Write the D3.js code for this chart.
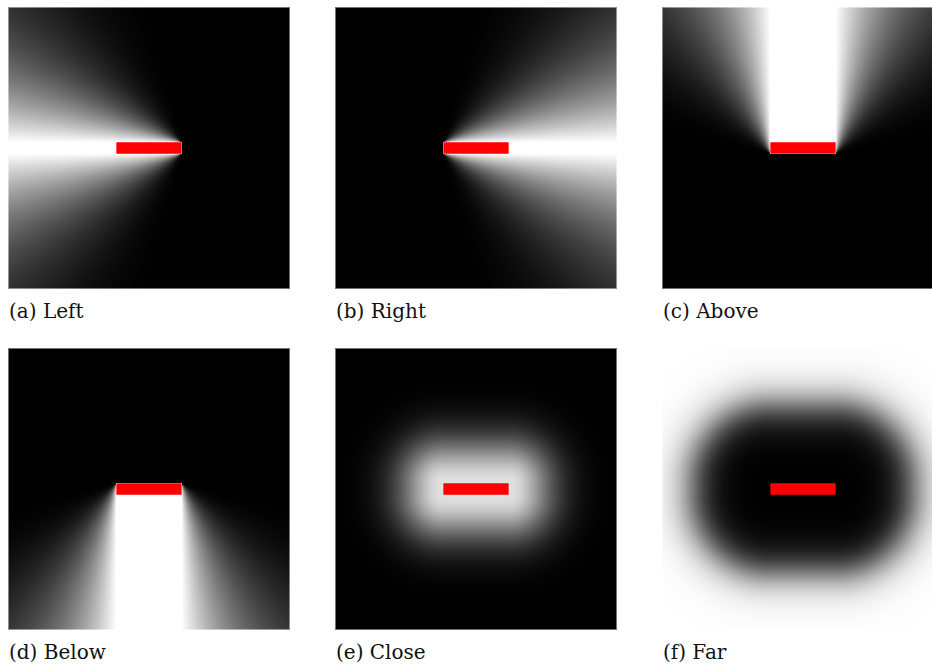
<!DOCTYPE html>
<html>
<head>
<meta charset="utf-8">
<script src="https://cdn.jsdelivr.net/npm/d3@7/dist/d3.min.js"></script>
<style>
  body { margin: 0; background: #fff; }
  svg { display: block; }
</style>
</head>
<body>
<div id="chart"></div>
<script>
// panels, in reading order
const captions = ['(a) Left', '(b) Right', '(c) Above', '(d) Below', '(e) Close', '(f) Far'];
const relations = ['left', 'right', 'above', 'below', 'close', 'far'];

// landmark (red bar) in field units, field spans extent on both axes
const landmarkX = [-0.5, 0.5];
const landmarkY = [-0.088, 0.088];
const extent = [-2.16, 2.16];

// field parameters
const directionPower = 3;              // (1 - 2θ/π)^k
const closeParams = [0.88, 0.68, 2];   // peak, width, shape
const farParams = [1.2, 0.18];         // centre, slope

const width = 932;
const height = 671;
const size = 282;
const colX = [8, 335, 662];
const rowY = [7, 348];

const dirs = {
  left: [-1, 0],
  right: [1, 0],
  above: [0, 1],
  below: [0, -1]
};

const xScale = d3.scaleLinear().domain(extent).range([0, size]);
const yScale = d3.scaleLinear().domain(extent).range([size, 0]);

const corners = [
  [landmarkX[0], landmarkY[0]],
  [landmarkX[0], landmarkY[1]],
  [landmarkX[1], landmarkY[0]],
  [landmarkX[1], landmarkY[1]]
];

function distToLandmark(x, y) {
  const dx = Math.max(landmarkX[0] - x, 0, x - landmarkX[1]);
  const dy = Math.max(landmarkY[0] - y, 0, y - landmarkY[1]);
  return Math.sqrt(dx * dx + dy * dy);
}

function directional(rel, x, y) {
  const u = dirs[rel];
  const w = [-u[1], u[0]];
  let aMax = -Infinity, bMin = Infinity, bMax = -Infinity, theta = Infinity;
  corners.forEach(c => {
    const vx = x - c[0], vy = y - c[1];
    const a = vx * u[0] + vy * u[1];
    const b = vx * w[0] + vy * w[1];
    aMax = Math.max(aMax, a);
    bMin = Math.min(bMin, b);
    bMax = Math.max(bMax, b);
    theta = Math.min(theta, Math.atan2(Math.abs(b), a));
  });
  if (aMax > 0 && bMin <= 0 && bMax >= 0) return 1;
  return Math.pow(Math.max(0, 1 - 2 * theta / Math.PI), directionPower);
}

function fieldValue(rel, x, y) {
  if (rel === 'close') {
    const d = distToLandmark(x, y);
    return closeParams[0] * Math.exp(-Math.pow(d / closeParams[1], closeParams[2]));
  }
  if (rel === 'far') {
    const d = distToLandmark(x, y);
    return 1 / (1 + Math.exp(-(d - farParams[0]) / farParams[1]));
  }
  return directional(rel, x, y);
}

function renderField(rel) {
  const canvas = document.createElement('canvas');
  canvas.width = size;
  canvas.height = size;
  const ctx = canvas.getContext('2d');
  const img = ctx.createImageData(size, size);
  for (let j = 0; j < size; j++) {
    const y = yScale.invert(j + 0.5);
    for (let i = 0; i < size; i++) {
      const x = xScale.invert(i + 0.5);
      const g = Math.round(255 * Math.min(1, Math.max(0, fieldValue(rel, x, y))));
      const k = (j * size + i) * 4;
      img.data[k] = g;
      img.data[k + 1] = g;
      img.data[k + 2] = g;
      img.data[k + 3] = 255;
    }
  }
  ctx.putImageData(img, 0, 0);
  return canvas.toDataURL();
}

const svg = d3
  .select('#chart')
  .append('svg')
  .attr('width', width)
  .attr('height', height);

svg.append('rect').attr('width', width).attr('height', height).attr('fill', '#fff');

const panels = svg
  .selectAll('g.panel')
  .data(relations)
  .enter()
  .append('g')
  .attr('class', 'panel')
  .attr('transform', (d, i) => `translate(${colX[i % 3]}, ${rowY[Math.floor(i / 3)]})`);

panels
  .append('image')
  .attr('width', size)
  .attr('height', size)
  .attr('href', d => renderField(d));

/* soft edge where the image meets the page */
panels
  .append('rect')
  .attr('x', 0.5)
  .attr('y', 0.5)
  .attr('width', size - 1)
  .attr('height', size - 1)
  .attr('fill', 'none')
  .attr('stroke', '#fff')
  .attr('stroke-opacity', 0.45);

/* the landmark */
panels
  .append('rect')
  .attr('x', xScale(landmarkX[0]))
  .attr('y', yScale(landmarkY[1]))
  .attr('width', xScale(landmarkX[1]) - xScale(landmarkX[0]))
  .attr('height', yScale(landmarkY[0]) - yScale(landmarkY[1]))
  .attr('fill', '#ff0000');

panels
  .append('text')
  .attr('x', 1)
  .attr('y', 311)
  .attr('font-family', '"DejaVu Serif", "Liberation Serif", "Times New Roman", serif')
  .attr('font-size', 20)
  .attr('fill', '#111')
  .text((d, i) => captions[i]);
</script>
</body>
</html>
